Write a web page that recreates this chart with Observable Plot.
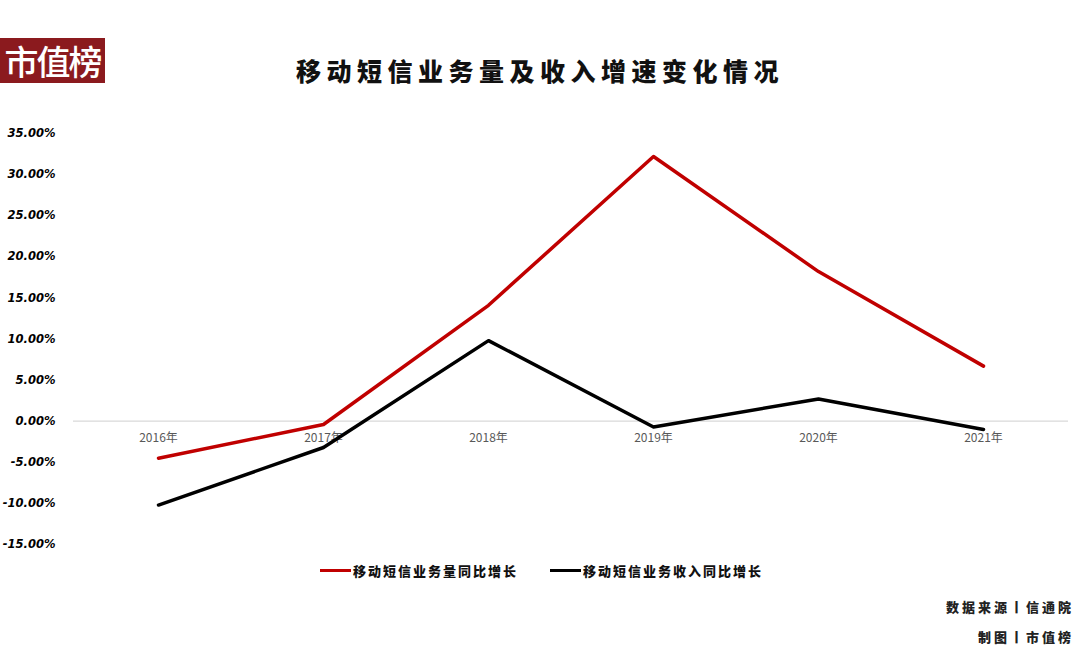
<!DOCTYPE html>
<html><head><meta charset="utf-8">
<script src="https://cdn.jsdelivr.net/npm/d3@7"></script>
<script src="https://cdn.jsdelivr.net/npm/@observablehq/plot@0.6"></script>
<style>
body{margin:0;background:#fff;}
#wrap{position:relative;width:1080px;height:672px;overflow:hidden;font-family:"Noto Sans CJK SC","Noto Sans",sans-serif;}
#logo{position:absolute;left:0;top:38px;width:105px;height:45px;background:#8b1a1e;color:#fff;font-size:34px;line-height:45px;text-align:center;letter-spacing:-2px;font-weight:500;}
#title{position:absolute;left:0;width:1080px;top:52px;text-align:center;font-size:25px;font-weight:900;letter-spacing:5.5px;color:#111;}
#chart{position:absolute;left:0;top:110px;}
#legend{position:absolute;top:561px;left:0;width:1080px;font-size:13px;font-weight:900;color:#111;letter-spacing:2px;}
.li{position:absolute;display:flex;align-items:center;}
.sw{display:inline-block;width:31px;height:3px;margin-right:2px;}
.foot{position:absolute;right:6px;font-size:13px;font-weight:900;color:#222;letter-spacing:3px;}
</style></head><body>
<div id="wrap">
<div id="logo">市值榜</div>
<div id="title">移动短信业务量及收入增速变化情况</div>
<div id="chart"></div>
<div id="legend">
<div class="li" style="left:320px;"><span class="sw" style="background:#c00000"></span>移动短信业务量同比增长</div>
<div class="li" style="left:550px;"><span class="sw" style="background:#000"></span>移动短信业务收入同比增长</div>
</div>
<div class="foot" style="top:597px;">数据来源丨信通院</div>
<div class="foot" style="top:627px;">制图丨市值榜</div>
</div>
<script>
const years = ["2016年","2017年","2018年","2019年","2020年","2021年"];
const volumeGrowth = [-4.5, -0.4, 14.1, 32.2, 18.2, 6.7];
const revenueGrowth = [-10.2, -3.2, 9.8, -0.7, 2.7, -1.0];
const yTicks = [-15,-10,-5,0,5,10,15,20,25,30,35];

const volData = years.map((y,i)=>({year:y, v:volumeGrowth[i]}));
const revData = years.map((y,i)=>({year:y, v:revenueGrowth[i]}));

const chart = Plot.plot({
  width:1080, height:460,
  marginLeft:73, marginRight:12, marginTop:23, marginBottom:26,
  x:{type:"point", domain:years, padding:0.5, axis:null},
  y:{domain:[-15,35], ticks:yTicks, tickFormat:d=>d.toFixed(2)+"%", tickSize:0, tickPadding:18, label:null},
  style:{fontFamily:"'DejaVu Sans',sans-serif", fontSize:"11.5px"},
  marks:[
    Plot.ruleY([0],{stroke:"#d9d9d9", strokeWidth:1.2}),
    Plot.text(years,{x:d=>d, y:0, dy:17, text:d=>d, fill:"#595959", fontSize:12, fontFamily:"Noto Sans CJK SC"}),
    Plot.line(volData,{x:"year", y:"v", stroke:"#c00000", strokeWidth:3.5}),
    Plot.line(revData,{x:"year", y:"v", stroke:"#000", strokeWidth:3.5})
  ]
});
chart.querySelectorAll("g[aria-label='y-axis tick label'] text, g[aria-label='y-axis tick label']").forEach(e=>{e.style.fontStyle="italic";e.style.fontWeight="bold";});
document.getElementById("chart").appendChild(chart);
</script>
</body></html>
